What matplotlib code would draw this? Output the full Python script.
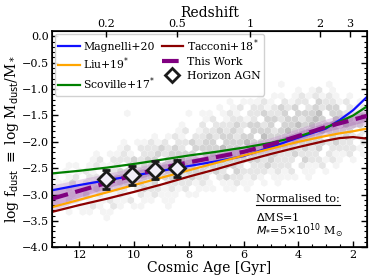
import numpy as np
import matplotlib
matplotlib.use("Agg")
import matplotlib.pyplot as plt
from matplotlib.lines import Line2D

plt.rcParams['font.family'] = ['DejaVu Serif']
plt.rcParams['mathtext.fontset'] = 'dejavusans'

# ---------------- data ----------------
age_grid = [13.0, 12.0, 11.0, 10.0, 9.0, 8.0, 7.0, 6.0, 5.0, 4.0, 3.0, 2.5, 2.0, 1.5]
magnelli = [-2.92, -2.82, -2.73, -2.64, -2.55, -2.46, -2.37, -2.27, -2.10, -1.92, -1.75, -1.59, -1.40, -1.15]
liu      = [-3.24, -3.10, -2.96, -2.82, -2.68, -2.54, -2.40, -2.26, -2.13, -2.00, -1.89, -1.84, -1.80, -1.75]
scoville = [-2.60, -2.55, -2.49, -2.42, -2.34, -2.26, -2.19, -2.11, -2.02, -1.90, -1.73, -1.62, -1.50, -1.33]
tacconi  = [-3.33, -3.20, -3.08, -2.95, -2.81, -2.66, -2.52, -2.37, -2.23, -2.10, -1.98, -1.93, -1.91, -1.94]
this_work = [-3.08, -2.93, -2.78, -2.63, -2.50, -2.39, -2.29, -2.19, -2.05, -1.89, -1.72, -1.65, -1.58, -1.51]

band_age = [13.0, 11.0, 9.0, 7.0, 5.0, 3.0, 1.5]
outer_hi = [-2.82, -2.60, -2.38, -2.18, -1.92, -1.57, -1.35]
outer_lo = [-3.30, -2.95, -2.62, -2.40, -2.18, -1.87, -1.67]
inner_hi = [-2.93, -2.67, -2.43, -2.23, -1.98, -1.63, -1.41]
inner_lo = [-3.22, -2.88, -2.57, -2.35, -2.12, -1.81, -1.61]

hagn_age = [11.03, 10.07, 9.22, 8.45]
hagn_val = [-2.71, -2.63, -2.54, -2.50]
hagn_err = [0.18, 0.18, 0.17, 0.16]

z_ticks = [0.2, 0.5, 1, 2, 3]
z_labels = ['0.2', '0.5', '1', '2', '3']

# Horizon-AGN density background (hex cells): rows from top, (start column, grey levels)
hex_age_left = 13.0
hex_dx = 0.25
hex_y_top = -0.80
hex_dy = 0.11
hex_rows = [
    (0, ""),
    (33, "1000000 1"),
    (36, "10 1201"),
    (30, "1011 0121 2121 0100"),
    (26, "1011 1210 2122 0322 1201"),
    (22, "0010 1202 2123 2302 3233 0212"),
    (11, "1 00000000 1 0 1101 2102 2322 3033 3403 3202"),
    (22, "1201 2212 0332 3323 4304 3323"),
    (18, "0100 2022 2323 3230 3343 4334 0433"),
    (18, "1201 2232 3203 3323 4333 0433 3302"),
    (14, "0101 2102 2323 3233 0433 3343 3303 2322"),
    (10, "1011 2120 2232 3303 3343 3334 0333 3323 2202"),
    (10, "1202 2232 3203 3334 3303 3433 3323 2302 2221"),
    (6, "1011 2102 2323 3330 3433 3303 3332 2322 2021 1201"),
    (6, "1202 2232 3303 3433 0334 3333 3232 2203 2212 1010"),
    (2, "1101 2112 0323 3333 3430 3333 3202 2322 2021 1201"),
    (2, "1012 1032 3323 3303 3333 3232 0322 2212 1201 101"),
    (0, "10 1202 2313 3303 3333 3232 2023 2212 1011 1101"),
    (0, "01 1302 2032 3323 2302 2221 2101 1211 0101"),
    (0, "11 2101 3222 2023 2212 1201 1101 1010"),
    (0, "01 1213 0211 2102 1211 1011"),
    (0, "10 2101 1121 1201 1011"),
    (0, "01 1011 2102 1011 0001"),
    (0, "00 1011 0110"),
    (8, "1"),
]

# ---------------- helpers ----------------
def age_of_z(z, H0=70.0, Om=0.3):
    OL = 1.0 - Om
    th = 977.8 / H0
    return 2.0 / (3.0 * np.sqrt(OL)) * th * np.arcsinh(np.sqrt(OL / Om) * (1.0 + np.asarray(z)) ** -1.5)

# ---------------- figure ----------------
fig = plt.figure(figsize=(3.74, 2.80), dpi=100)
ax = fig.add_axes([0.139, 0.117, 0.842, 0.772])

# hex background
hx, hy, hc = [], [], []
for k, (start, digits) in enumerate(hex_rows):
    d = digits.replace(' ', '')
    y = hex_y_top - k * hex_dy
    off = hex_dx / 2 if k % 2 else 0.0
    for i, ch in enumerate(d):
        v = int(ch)
        if v > 0:
            hx.append(hex_age_left - (start + i) * hex_dx - off)
            hy.append(y)
            hc.append(v)
ax.scatter(hx, hy, c=hc, cmap='Greys', vmin=0, vmax=11, marker='h', s=30,
           linewidths=0, zorder=0)

# This Work band
ax.fill_between(band_age, outer_lo, outer_hi, color='#c08ccc', alpha=0.35, lw=0, zorder=1)
ax.fill_between(band_age, inner_lo, inner_hi, color='#9a4aa8', alpha=0.30, lw=0, zorder=1)

lw = 1.6
ax.plot(age_grid, magnelli, color='#1010ff', lw=lw, zorder=2, label='Magnelli+20')
ax.plot(age_grid, liu, color='orange', lw=lw, zorder=2, label='Liu+19$^{*}$')
ax.plot(age_grid, scoville, color='green', lw=lw, zorder=2, label='Scoville+17$^{*}$')
ax.plot(age_grid, tacconi, color='darkred', lw=lw, zorder=2, label='Tacconi+18$^{*}$')
ax.plot(age_grid, this_work, color='purple', lw=3.0, dashes=(4.0, 1.8), zorder=3, label='This Work')

ax.errorbar(hagn_age, hagn_val, yerr=hagn_err, fmt='D', ms=8, mfc='#f2eef8', mec='#1a1a1a',
            mew=2.0, ecolor='#1a1a1a', elinewidth=1.8, capsize=3, capthick=2, zorder=4)
hagn_handle = Line2D([], [], ls='none', marker='D', ms=7.5, mfc='white', mec='#1a1a1a', mew=2.0)

handles, labels = ax.get_legend_handles_labels()
handles.append(hagn_handle)
labels.append('Horizon AGN')
leg = ax.legend(handles, labels, ncol=2, loc='upper left', fontsize=7.8, borderaxespad=0.25,
                handlelength=2.0, handletextpad=0.35, labelspacing=0.32, columnspacing=0.6,
                borderpad=0.3, framealpha=0.9, edgecolor='#cccccc')
leg.set_zorder(10)

ax.set_xlim(13.0, 1.5)
ax.set_ylim(-4.0, 0.1)
ax.set_xticks([12, 10, 8, 6, 4, 2])
ax.set_xticks(np.arange(12.5, 1.4, -0.5), minor=True)
ax.set_yticks([0.0, -0.5, -1.0, -1.5, -2.0, -2.5, -3.0, -3.5, -4.0])
ax.set_yticks(np.arange(-4.0, 0.05, 0.1), minor=True)
ax.tick_params(axis='both', which='both', direction='in', labelsize=8, right=True, pad=2)
ax.tick_params(which='major', length=4.5, width=1.0)
ax.tick_params(which='minor', length=2.5, width=0.8)
ax.tick_params(axis='x', which='both', top=False)
for s in ax.spines.values():
    s.set_linewidth(1.2)

ax.set_xlabel('Cosmic Age [Gyr]', fontsize=10, labelpad=1)
ax.set_ylabel(r'log f$_{\rm dust}$ $\equiv$ log M$_{\rm dust}$/M$_*$', fontsize=10, labelpad=1)

ax2 = ax.twiny()
ax2.set_xlim(ax.get_xlim())
ax2.set_xticks(age_of_z(z_ticks))
ax2.set_xticklabels(z_labels)
ax2.tick_params(axis='x', which='major', direction='in', length=4.5, width=1.0, labelsize=8, pad=1.5)
ax2.set_xlabel('Redshift', fontsize=10, labelpad=1.5)

t1 = ax.text(0.648, 0.222, 'Normalised to:', transform=ax.transAxes, fontsize=8,
             ha='left', va='center', zorder=11)
ax.text(0.648, 0.142, r'$\Delta$MS=1', transform=ax.transAxes, fontsize=8,
        ha='left', va='center', zorder=11)
ax.text(0.648, 0.078, r'$M_{*}$=5$\times10^{10}$ M$_{\odot}$', transform=ax.transAxes,
        fontsize=8, ha='left', va='center', zorder=11)

fig.canvas.draw()
bb = t1.get_window_extent().transformed(fig.transFigure.inverted())
fig.add_artist(Line2D([bb.x0, bb.x1], [bb.y0 - 0.002, bb.y0 - 0.002], color='black', lw=0.8,
                      transform=fig.transFigure))

fig.savefig('out.png', dpi=100)
